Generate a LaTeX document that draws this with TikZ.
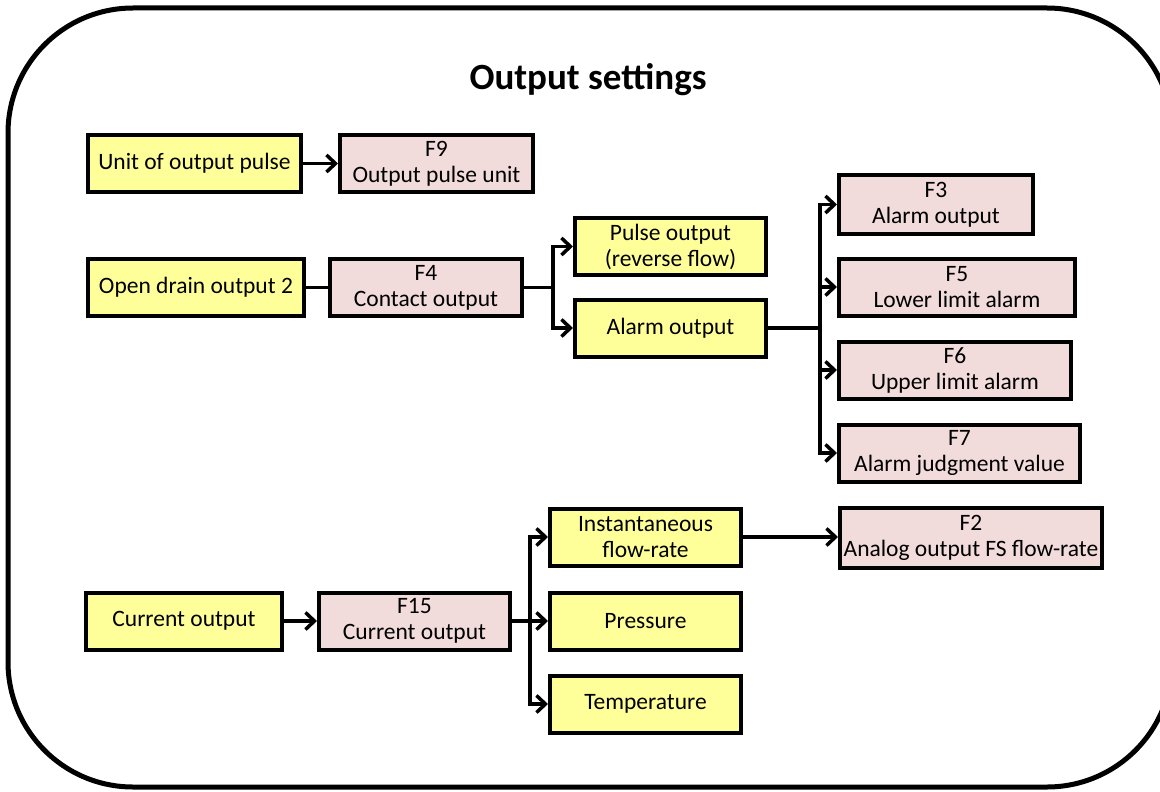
\documentclass[tikz,border=0pt]{standalone}
\usepackage{fontspec}
\setmainfont{Carlito}
\usetikzlibrary{arrows.meta}
\definecolor{boxYellow}{RGB}{255,255,153}
\definecolor{boxPink}{RGB}{242,220,219}

\begin{document}
\begin{tikzpicture}[x=1pt, y=-1pt,
    setting/.style={draw, line width=4pt, fill=boxYellow, align=center, inner sep=0pt,
        minimum height=57pt, font=\fontsize{23.5}{26}\selectfont},
    func/.style={setting, fill=boxPink},
    link/.style={line width=3.5pt, line cap=round},
    arr/.style={link, -{Straight Barb[length=9pt, width=17pt]}}]

                \useasboundingbox (0,0) rectangle (1160,792);

                % 1. FRAME AND TITLE
                \draw[line width=5pt, rounded corners=125pt] (8,8) rectangle (1172,787);
                \node[font=\fontsize{37}{44}\selectfont\bfseries] (title) at (588,80) {Output settings};

                % 2. OUTPUT PULSE UNIT
                \node[setting, minimum width=213pt] (unit) at (194.5,163.5) {Unit of output pulse};
                \node[func, minimum width=193pt] (f9) at (436.5,163.5) {F9\\Output pulse unit};
                \draw[arr] (unit) -- (f9);

                % 3. OPEN DRAIN OUTPUT 2 (contact output)
                \node[setting, minimum width=216pt] (drain) at (196,287.5) {Open drain output 2};
                \node[func, minimum width=192pt] (f4) at (426,287.5) {F4\\Contact output};
                \node[setting, minimum width=191pt] (pulse) at (670.5,246.5) {Pulse output\\(reverse flow)};
                \node[setting, minimum width=191pt] (alarm) at (670.5,328) {Alarm output};
                \draw[link] (drain) -- (f4);
                \draw[link] (f4.east) -- ++(29,0) coordinate (split1);
                \draw[arr] (split1) |- (pulse.west);
                \draw[arr] (split1) |- (alarm.west);

                % Alarm settings
                \node[func, minimum width=194pt, minimum height=59pt] (f3) at (936,204.5) {F3\\Alarm output};
                \node[func, minimum width=236pt] (f5) at (957,287) {F5\\Lower limit alarm};
                \node[func, minimum width=232pt] (f6) at (955,370) {F6\\Upper limit alarm};
                \node[func, minimum width=241pt] (f7) at (959.5,453) {F7\\Alarm judgment value};
                \draw[link] (alarm.east) -- ++(52,0) coordinate (split2);
                \foreach \n in {f3,f5,f6,f7} { \draw[arr] (split2) |- (\n.west); }

                % 4. CURRENT OUTPUT
                \node[setting, minimum width=196pt] (current) at (184,621) {Current output};
                \node[func, minimum width=191pt] (f15) at (414.5,621) {F15\\Current output};
                \node[setting, minimum width=191pt] (flow) at (645.5,537) {Instantaneous\\flow-rate};
                \node[setting, minimum width=191pt] (press) at (645.5,621) {Pressure};
                \node[setting, minimum width=191pt] (temp) at (645.5,704) {Temperature};
                \node[func, minimum width=262pt, minimum height=60pt] (f2) at (971,538) {F2\\Analog output FS flow-rate};
                \draw[arr] (current) -- (f15);
                \draw[link] (f15.east) -- ++(18,0) coordinate (split3);
                \foreach \n in {flow,press,temp} { \draw[arr] (split3) |- (\n.west); }
                \draw[arr] (flow.east) -- (f2.west |- flow.east);

\end{tikzpicture}
\end{document}
